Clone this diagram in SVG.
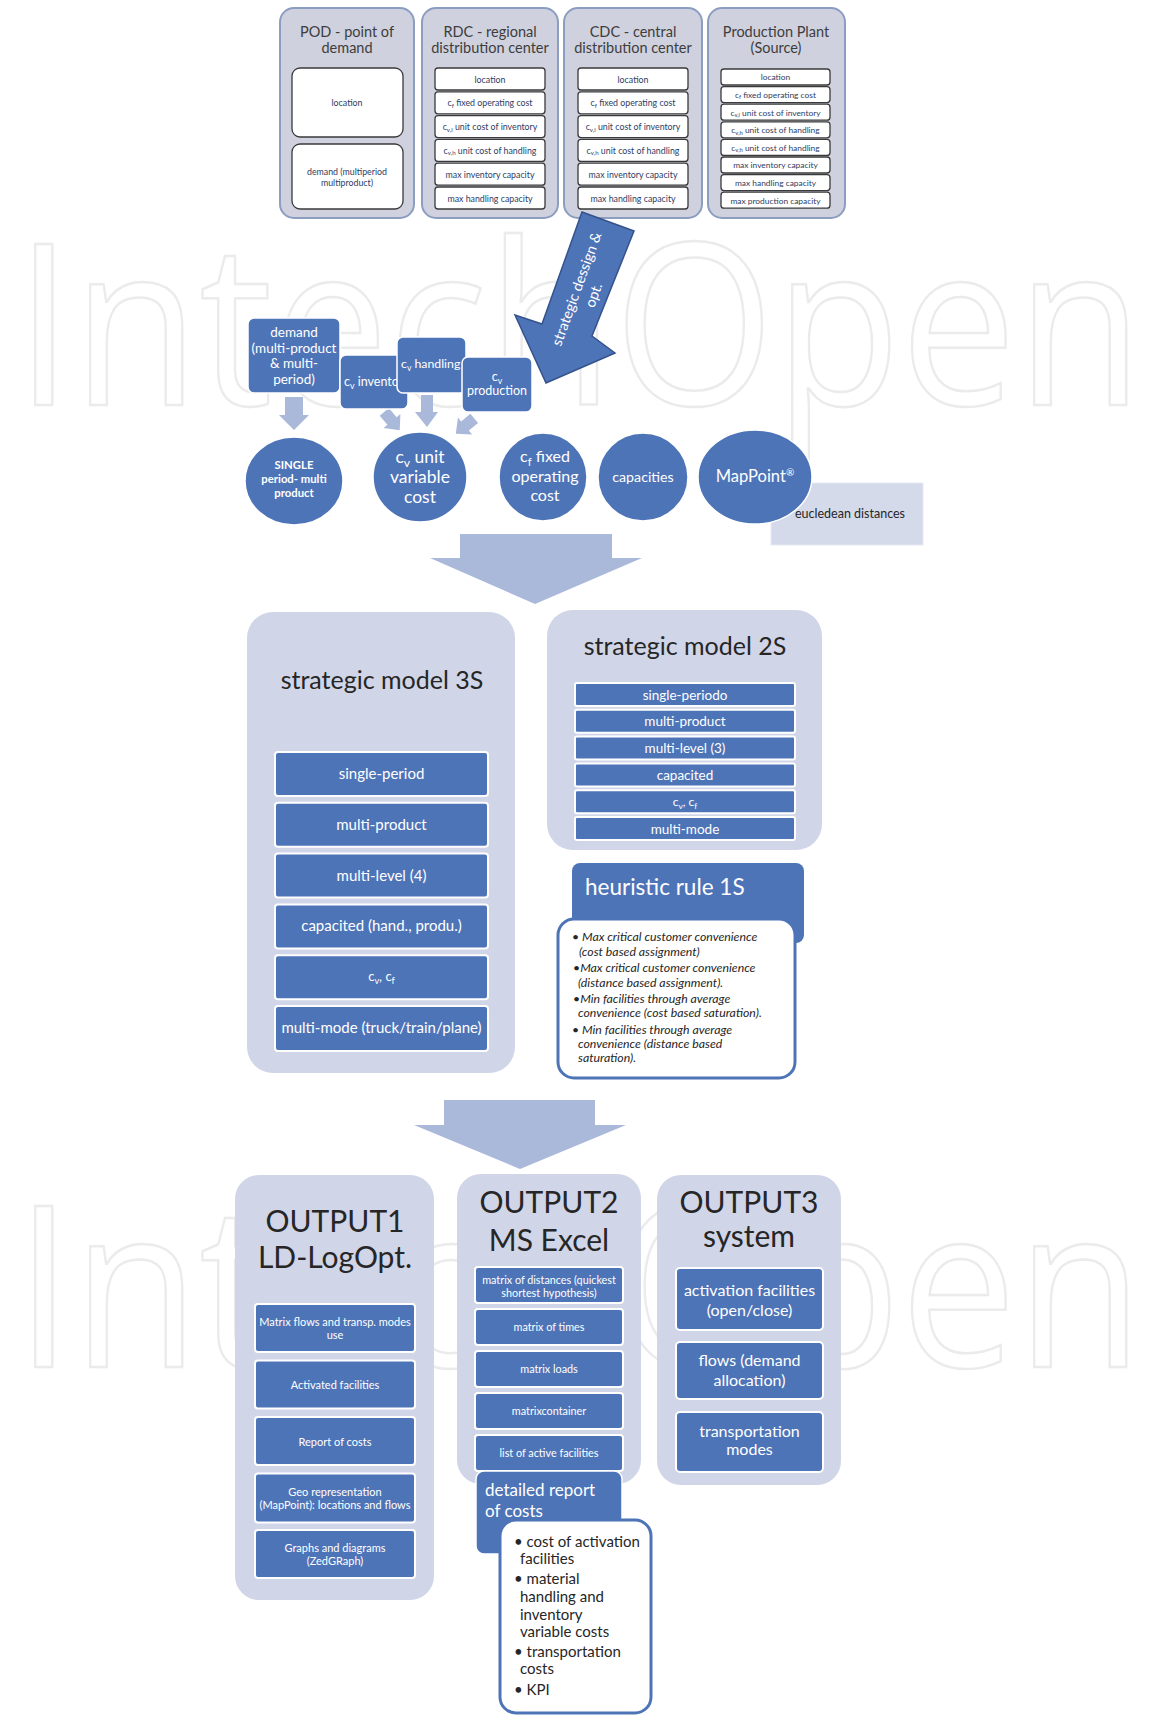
<svg xmlns="http://www.w3.org/2000/svg" width="1151" height="1715" viewBox="0 0 1151 1715">
<style>
text{font-family:Lato,"Liberation Sans",sans-serif}
.wm{font-family:"Open Sans",sans-serif;font-size:226px;fill:none;stroke:#ebebeb;stroke-width:2.5}
.src{fill:#cfd1de;stroke:#8c9dc2;stroke-width:2}
.src-t{font-size:14.5px;fill:#3d3d3d;text-anchor:middle}
.cell{fill:#fff;stroke:#3a3a3a;stroke-width:1.3}
.cell-t{font-size:8.8px;fill:#2e3c63;text-anchor:middle}
.pp-t{font-size:8.4px;fill:#2e3c63;text-anchor:middle}
.blue{fill:#4e74b8;stroke:#fff;stroke-width:1.5}
.wt{fill:#fff;text-anchor:middle}
.pale{fill:#aab8da}
.panel{fill:#d0d5e8}
.item{fill:#4e74b8;stroke:#fff;stroke-width:2}
.dark{fill:#262626}
.note{fill:#fff;stroke:#4e74b8;stroke-width:3}
.sub{font-size:70%}
</style>
<defs>
  <path id="tinyArrow" d="M-6,-12 H6 V0 H11 L0,12 L-11,0 H-6 Z"/>
</defs>

<!-- background watermark lettering -->
<g id="watermark">
  <text class="wm" x="15" y="405" textLength="1128" lengthAdjust="spacingAndGlyphs">IntechOpen</text>
  <text class="wm" x="15" y="1367" textLength="1128" lengthAdjust="spacingAndGlyphs">IntechOpen</text>
</g>

<!-- facility types -->
<g id="pod">
  <rect class="src" x="280" y="8" width="134" height="210" rx="14"/>
  <text class="src-t" x="347" y="37">POD - point of</text>
  <text class="src-t" x="347" y="53">demand</text>
  <rect class="cell" x="292" y="68" width="111" height="69" rx="8" stroke-width="2"/>
  <text class="cell-t" x="347" y="106" font-size="9.5">location</text>
  <rect class="cell" x="292" y="144" width="111" height="65" rx="8" stroke-width="2"/>
  <text class="cell-t" x="347" y="175" font-size="9.5">demand (multiperiod</text>
  <text class="cell-t" x="347" y="186" font-size="9.5">multiproduct)</text>
</g>

<g id="rdc">
  <rect class="src" x="422" y="8" width="136" height="210" rx="14"/>
  <text class="src-t" x="490" y="37">RDC - regional</text>
  <text class="src-t" x="490" y="53">distribution center</text>
  <rect class="cell" x="435" y="68" width="110" height="22" rx="3"/>
  <text class="cell-t" x="490" y="82.5">location</text>
  <rect class="cell" x="435" y="91.8" width="110" height="22" rx="3"/>
  <text class="cell-t" x="490" y="106.3">c<tspan class="sub" dy="1.5">f</tspan><tspan dy="-1.5"> fixed operating cost</tspan></text>
  <rect class="cell" x="435" y="115.6" width="110" height="22" rx="3"/>
  <text class="cell-t" x="490" y="130.1">c<tspan class="sub" dy="1.5">v,i</tspan><tspan dy="-1.5"> unit cost of inventory</tspan></text>
  <rect class="cell" x="435" y="139.4" width="110" height="22" rx="3"/>
  <text class="cell-t" x="490" y="153.9">c<tspan class="sub" dy="1.5">v,h</tspan><tspan dy="-1.5"> unit cost of handling</tspan></text>
  <rect class="cell" x="435" y="163.2" width="110" height="22" rx="3"/>
  <text class="cell-t" x="490" y="177.7">max inventory capacity</text>
  <rect class="cell" x="435" y="187" width="110" height="22" rx="3"/>
  <text class="cell-t" x="490" y="201.5">max handling capacity</text>
</g>

<g id="cdc">
  <rect class="src" x="564" y="8" width="138" height="210" rx="14"/>
  <text class="src-t" x="633" y="37">CDC - central</text>
  <text class="src-t" x="633" y="53">distribution center</text>
  <rect class="cell" x="578" y="68" width="110" height="22" rx="3"/>
  <text class="cell-t" x="633" y="82.5">location</text>
  <rect class="cell" x="578" y="91.8" width="110" height="22" rx="3"/>
  <text class="cell-t" x="633" y="106.3">c<tspan class="sub" dy="1.5">f</tspan><tspan dy="-1.5"> fixed operating cost</tspan></text>
  <rect class="cell" x="578" y="115.6" width="110" height="22" rx="3"/>
  <text class="cell-t" x="633" y="130.1">c<tspan class="sub" dy="1.5">v,i</tspan><tspan dy="-1.5"> unit cost of inventory</tspan></text>
  <rect class="cell" x="578" y="139.4" width="110" height="22" rx="3"/>
  <text class="cell-t" x="633" y="153.9">c<tspan class="sub" dy="1.5">v,h</tspan><tspan dy="-1.5"> unit cost of handling</tspan></text>
  <rect class="cell" x="578" y="163.2" width="110" height="22" rx="3"/>
  <text class="cell-t" x="633" y="177.7">max inventory capacity</text>
  <rect class="cell" x="578" y="187" width="110" height="22" rx="3"/>
  <text class="cell-t" x="633" y="201.5">max handling capacity</text>
</g>

<g id="plant">
  <rect class="src" x="708" y="8" width="137" height="210" rx="14"/>
  <text class="src-t" x="776" y="37">Production Plant</text>
  <text class="src-t" x="776" y="53">(Source)</text>
  <rect class="cell" x="721" y="69" width="109" height="16" rx="3"/>
  <text class="pp-t" x="775.5" y="80.3">location</text>
  <rect class="cell" x="721" y="86.6" width="109" height="16" rx="3"/>
  <text class="pp-t" x="775.5" y="97.9">c<tspan class="sub" dy="1.5">f</tspan><tspan dy="-1.5"> fixed operating cost</tspan></text>
  <rect class="cell" x="721" y="104.2" width="109" height="16" rx="3"/>
  <text class="pp-t" x="775.5" y="115.5">c<tspan class="sub" dy="1.5">v,i</tspan><tspan dy="-1.5"> unit cost of inventory</tspan></text>
  <rect class="cell" x="721" y="121.8" width="109" height="16" rx="3"/>
  <text class="pp-t" x="775.5" y="133.1">c<tspan class="sub" dy="1.5">v,h</tspan><tspan dy="-1.5"> unit cost of handling</tspan></text>
  <rect class="cell" x="721" y="139.4" width="109" height="16" rx="3"/>
  <text class="pp-t" x="775.5" y="150.7">c<tspan class="sub" dy="1.5">v,h</tspan><tspan dy="-1.5"> unit cost of handling</tspan></text>
  <rect class="cell" x="721" y="157" width="109" height="16" rx="3"/>
  <text class="pp-t" x="775.5" y="168.3">max inventory capacity</text>
  <rect class="cell" x="721" y="174.6" width="109" height="16" rx="3"/>
  <text class="pp-t" x="775.5" y="185.9">max handling capacity</text>
  <rect class="cell" x="721" y="192.2" width="109" height="16" rx="3"/>
  <text class="pp-t" x="775.5" y="203.5">max production capacity</text>
</g>

<!-- arrows between stages -->
<g id="connectors">
  <g id="design-arrow">
    <polygon points="582,212 634,231 592,336 615,353 546,383 515,315 542,324" fill="#4e74b8" stroke="#34528c" stroke-width="1.5"/>
    <g transform="translate(585,292) rotate(-70)">
      <text class="wt" x="0" y="-4" font-size="14.5">strategic dessign &amp;</text>
      <text class="wt" x="0" y="14" font-size="14.5">opt.</text>
    </g>
  </g>
  <polygon class="pale" points="285,397 303,397 303,415 309,415 294,430 279,415 285,415"/>
  <use href="#tinyArrow" class="pale" transform="translate(392,421) rotate(-40)"/>
  <polygon class="pale" points="421,395 433,395 433,412 438,412 427,427 415,412 421,412"/>
  <use href="#tinyArrow" class="pale" transform="translate(465,426) rotate(50)"/>
  <polygon class="pale" points="460,534 612,534 612,558 642,558 535,604 430,558 460,558"/>
  <polygon class="pale" points="444,1100 595,1100 595,1125 626,1125 520,1169 414,1125 444,1125"/>
</g>

<!-- input parameters -->
<g id="demand">
  <rect class="blue" x="248" y="318" width="92" height="75" rx="6"/>
  <text class="wt" font-size="13.5" x="294" y="337">demand</text>
  <text class="wt" font-size="13.5" x="294" y="353">(multi-product</text>
  <text class="wt" font-size="13.5" x="294" y="368">&amp; multi-</text>
  <text class="wt" font-size="13.5" x="294" y="384">period)</text>
</g>
<g id="cv-inventory">
  <rect class="blue" x="340" y="355" width="68" height="54" rx="6"/>
  <text fill="#fff" font-size="12.5" x="344" y="386">c<tspan class="sub" dy="3">v</tspan><tspan dy="-3"> invento</tspan></text>
</g>
<g id="cv-handling">
  <rect class="blue" x="397" y="337" width="69" height="56" rx="6"/>
  <text fill="#fff" font-size="12.3" x="401" y="368">c<tspan class="sub" dy="3">v</tspan><tspan dy="-3"> handling</tspan></text>
</g>
<g id="cv-production">
  <rect class="blue" x="462" y="357" width="70" height="55" rx="6"/>
  <text class="wt" font-size="12.5" x="497" y="381">c<tspan class="sub" dy="3">v</tspan></text>
  <text class="wt" font-size="12.5" x="497" y="395">production</text>
</g>

<g id="single-period">
  <ellipse class="blue" cx="294" cy="481" rx="49" ry="44"/>
  <text class="wt" font-size="11.3" font-weight="bold" x="294" y="469">SINGLE</text>
  <text class="wt" font-size="11.3" font-weight="bold" x="294" y="483">period- multi</text>
  <text class="wt" font-size="11.3" font-weight="bold" x="294" y="497">product</text>
</g>
<g id="unit-variable-cost">
  <ellipse class="blue" cx="420" cy="477" rx="47" ry="45"/>
  <text class="wt" font-size="17.5" x="420" y="463">c<tspan class="sub" dy="4">v</tspan><tspan dy="-4"> unit</tspan></text>
  <text class="wt" font-size="17.5" x="420" y="483">variable</text>
  <text class="wt" font-size="17.5" x="420" y="503">cost</text>
</g>
<g id="fixed-cost">
  <ellipse class="blue" cx="543" cy="477" rx="44" ry="44"/>
  <text class="wt" font-size="16" x="545" y="462">c<tspan class="sub" dy="4">f</tspan><tspan dy="-4"> fixed</tspan></text>
  <text class="wt" font-size="16" x="545" y="482">operating</text>
  <text class="wt" font-size="16" x="545" y="501">cost</text>
</g>
<g id="capacities">
  <ellipse class="blue" cx="643" cy="477" rx="45" ry="44"/>
  <text class="wt" font-size="14.2" x="643" y="482">capacities</text>
</g>
<g id="mappoint">
  <rect x="771" y="483" width="152" height="62" fill="#d5daeb" stroke="#e6e9f3" stroke-width="1"/>
  <text class="dark" font-size="12.5" x="850" y="518" text-anchor="middle">eucledean distances</text>
  <ellipse class="blue" cx="755" cy="477" rx="57" ry="47"/>
  <text class="wt" font-size="16.5" x="755" y="482">MapPoint<tspan font-size="10" dy="-6">®</tspan></text>
</g>

<!-- strategic model 3S -->
<g id="model-3s">
  <rect class="panel" x="247" y="612" width="268" height="461" rx="26"/>
  <text class="dark" font-size="25" x="382" y="689" text-anchor="middle">strategic model 3S</text>
  <rect class="item" x="275" y="752" width="213" height="44" rx="3"/>
  <text class="wt" font-size="15" x="381.5" y="779">single-period</text>
  <rect class="item" x="275" y="802.8" width="213" height="44" rx="3"/>
  <text class="wt" font-size="15" x="381.5" y="829.8">multi-product</text>
  <rect class="item" x="275" y="853.6" width="213" height="44" rx="3"/>
  <text class="wt" font-size="15" x="381.5" y="880.6">multi-level (4)</text>
  <rect class="item" x="275" y="904.4" width="213" height="44" rx="3"/>
  <text class="wt" font-size="15" x="381.5" y="931.4">capacited (hand., produ.)</text>
  <rect class="item" x="275" y="955.2" width="213" height="44" rx="3"/>
  <text class="wt" font-size="13" x="381.5" y="981">c<tspan class="sub" dy="3">v</tspan><tspan dy="-3">, c</tspan><tspan class="sub" dy="3">f</tspan></text>
  <rect class="item" x="275" y="1006" width="213" height="45" rx="3"/>
  <text class="wt" font-size="15" x="381.5" y="1033">multi-mode (truck/train/plane)</text>
</g>

<!-- strategic model 2S -->
<g id="model-2s">
  <rect class="panel" x="547" y="610" width="275" height="240" rx="26"/>
  <text class="dark" font-size="25" x="685" y="655" text-anchor="middle">strategic model 2S</text>
  <rect class="item" x="575" y="683" width="220" height="23" rx="2"/>
  <text class="wt" font-size="13.5" x="685" y="699.5">single-periodo</text>
  <rect class="item" x="575" y="709.8" width="220" height="23" rx="2"/>
  <text class="wt" font-size="13.5" x="685" y="726.3">multi-product</text>
  <rect class="item" x="575" y="736.6" width="220" height="23" rx="2"/>
  <text class="wt" font-size="13.5" x="685" y="753.1">multi-level (3)</text>
  <rect class="item" x="575" y="763.4" width="220" height="23" rx="2"/>
  <text class="wt" font-size="13.5" x="685" y="779.9">capacited</text>
  <rect class="item" x="575" y="790.2" width="220" height="23" rx="2"/>
  <text class="wt" font-size="12" x="685" y="805.5">c<tspan class="sub" dy="3">v</tspan><tspan dy="-3">, c</tspan><tspan class="sub" dy="3">f</tspan></text>
  <rect class="item" x="575" y="817" width="220" height="23" rx="2"/>
  <text class="wt" font-size="13.5" x="685" y="833.5">multi-mode</text>
</g>

<!-- heuristic rule 1S -->
<g id="heuristic-1s">
  <rect x="572" y="863" width="232" height="80" rx="8" fill="#4e74b8"/>
  <text fill="#fff" font-size="22.5" x="585" y="895">heuristic rule 1S</text>
  <rect class="note" x="558" y="919" width="237" height="159" rx="16"/>
  <g class="dark" font-size="12.3" font-style="italic">
    <text x="572" y="941">• Max critical customer convenience</text>
    <text x="579" y="956">(cost based assignment)</text>
    <text x="573" y="972">•Max critical customer convenience</text>
    <text x="578" y="987">(distance based assignment).</text>
    <text x="573" y="1003">•Min facilities through average</text>
    <text x="578" y="1017">convenience (cost based saturation).</text>
    <text x="572" y="1034">• Min facilities through average</text>
    <text x="578" y="1048">convenience (distance based</text>
    <text x="578" y="1062">saturation).</text>
  </g>
</g>

<!-- outputs -->
<g id="output1">
  <rect class="panel" x="235" y="1175" width="199" height="425" rx="24"/>
  <text class="dark" font-size="30" x="335" y="1232" text-anchor="middle">OUTPUT1</text>
  <text class="dark" font-size="30" x="335" y="1268" text-anchor="middle">LD-LogOpt.</text>
  <rect class="item" x="255" y="1304" width="160" height="48" rx="3"/>
  <text class="wt" font-size="11" x="335" y="1326">Matrix flows and transp. modes</text>
  <text class="wt" font-size="11" x="335" y="1339">use</text>
  <rect class="item" x="255" y="1360.5" width="160" height="48" rx="3"/>
  <text class="wt" font-size="11" x="335" y="1389">Activated facilities</text>
  <rect class="item" x="255" y="1417" width="160" height="48" rx="3"/>
  <text class="wt" font-size="11" x="335" y="1446">Report of costs</text>
  <rect class="item" x="255" y="1473.5" width="160" height="49" rx="3"/>
  <text class="wt" font-size="11" x="335" y="1496">Geo representation</text>
  <text class="wt" font-size="11" x="335" y="1509">(MapPoint): locations and flows</text>
  <rect class="item" x="255" y="1530" width="160" height="48" rx="3"/>
  <text class="wt" font-size="11" x="335" y="1552">Graphs and diagrams</text>
  <text class="wt" font-size="11" x="335" y="1565">(ZedGRaph)</text>
</g>

<g id="output2">
  <rect class="panel" x="457" y="1174" width="184" height="310" rx="24"/>
  <text class="dark" font-size="30" x="549" y="1213" text-anchor="middle">OUTPUT2</text>
  <text class="dark" font-size="30" x="549" y="1251" text-anchor="middle">MS Excel</text>
  <rect class="item" x="475" y="1267" width="148" height="36" rx="3"/>
  <text class="wt" font-size="10.8" x="549" y="1284">matrix of distances (quickest</text>
  <text class="wt" font-size="10.8" x="549" y="1297">shortest hypothesis)</text>
  <rect class="item" x="475" y="1309" width="148" height="36" rx="3"/>
  <text class="wt" font-size="10.8" x="549" y="1331">matrix of times</text>
  <rect class="item" x="475" y="1351" width="148" height="36" rx="3"/>
  <text class="wt" font-size="10.8" x="549" y="1373">matrix loads</text>
  <rect class="item" x="475" y="1393" width="148" height="36" rx="3"/>
  <text class="wt" font-size="10.8" x="549" y="1415">matrixcontainer</text>
  <rect class="item" x="475" y="1435" width="148" height="36" rx="3"/>
  <text class="wt" font-size="10.8" x="549" y="1457">list of active facilities</text>
</g>

<g id="cost-report">
  <rect x="476" y="1471" width="146" height="83" rx="8" fill="#4e74b8" stroke="#fff" stroke-width="1.5"/>
  <text fill="#fff" font-size="17" x="485" y="1496">detailed report</text>
  <text fill="#fff" font-size="17" x="485" y="1517">of costs</text>
  <rect class="note" x="500" y="1520" width="151" height="193" rx="16"/>
  <g class="dark" font-size="15">
    <text x="514" y="1547">• cost of activation</text>
    <text x="520" y="1564">facilities</text>
    <text x="514" y="1584">• material</text>
    <text x="520" y="1602">handling and</text>
    <text x="520" y="1620">inventory</text>
    <text x="520" y="1637">variable costs</text>
    <text x="514" y="1657">• transportation</text>
    <text x="520" y="1674">costs</text>
    <text x="514" y="1695">• KPI</text>
  </g>
</g>

<g id="output3">
  <rect class="panel" x="657" y="1175" width="184" height="310" rx="24"/>
  <text class="dark" font-size="30" x="749" y="1213" text-anchor="middle">OUTPUT3</text>
  <text class="dark" font-size="30" x="749" y="1247" text-anchor="middle">system</text>
  <rect class="item" x="676" y="1268" width="147" height="62" rx="4"/>
  <text class="wt" font-size="16" x="749.5" y="1296">activation facilities</text>
  <text class="wt" font-size="16" x="749.5" y="1316">(open/close)</text>
  <rect class="item" x="676" y="1342" width="147" height="57" rx="4"/>
  <text class="wt" font-size="16" x="749.5" y="1366">flows (demand</text>
  <text class="wt" font-size="16" x="749.5" y="1386">allocation)</text>
  <rect class="item" x="676" y="1412" width="147" height="60" rx="4"/>
  <text class="wt" font-size="16" x="749.5" y="1437">transportation</text>
  <text class="wt" font-size="16" x="749.5" y="1455">modes</text>
</g>
</svg>
